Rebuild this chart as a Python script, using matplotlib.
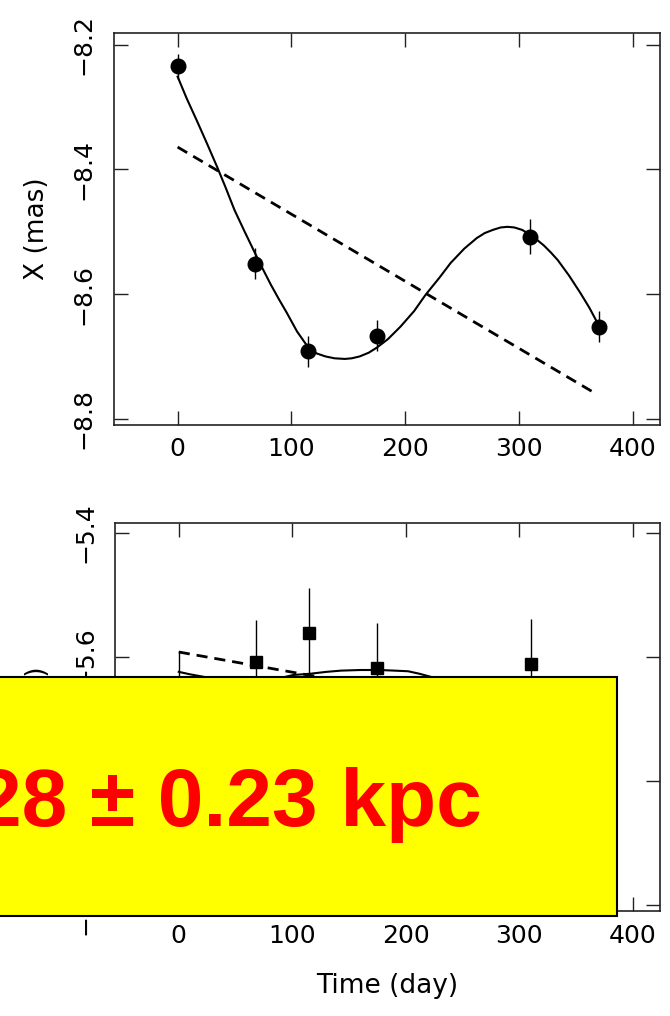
import matplotlib
matplotlib.use("Agg")
import matplotlib.pyplot as plt
from matplotlib.patches import Rectangle

# X (mas) data points
x_days = [0, 68, 115, 175, 310, 370]
x_pos = [-8.234, -8.551, -8.692, -8.667, -8.508, -8.652]
x_err = [0.020, 0.025, 0.025, 0.025, 0.028, 0.025]

# best fit (parallax + proper motion) in X
x_fit_days = [0, 8, 17, 26, 35, 42, 50, 59, 68, 75, 82, 89, 96, 105, 115, 122, 130,
              138, 147, 153, 160, 168, 175, 185, 196, 208, 218, 230, 240, 252, 263,
              270, 277, 284, 290, 296, 303, 310, 316, 322, 328, 334, 344, 354, 362, 369]
x_fit = [-8.251, -8.286, -8.322, -8.359, -8.397, -8.428, -8.465, -8.500, -8.534,
         -8.560, -8.585, -8.608, -8.630, -8.660, -8.686, -8.695, -8.700, -8.703,
         -8.704, -8.703, -8.700, -8.694, -8.686, -8.672, -8.652, -8.627, -8.601,
         -8.574, -8.550, -8.527, -8.510, -8.502, -8.497, -8.493, -8.492, -8.493,
         -8.497, -8.505, -8.513, -8.522, -8.533, -8.545, -8.570, -8.598, -8.622, -8.646]
# proper motion only in X
x_pm_days = [0, 366]
x_pm = [-8.364, -8.758]

# Y (mas) data points (first and last are under the box)
y_days = [0, 68, 115, 175, 310, 370]
y_pos = [-5.660, -5.608, -5.561, -5.618, -5.611, -5.700]
y_err = [0.07, 0.068, 0.073, 0.073, 0.073, 0.07]

y_fit_days = [0, 10, 22, 40, 60, 80, 101, 116, 130, 143, 160, 177, 190, 202, 212, 222,
              250, 280, 310, 340, 369]
y_fit = [-5.624, -5.628, -5.632, -5.640, -5.643, -5.638, -5.629, -5.627, -5.624,
         -5.622, -5.621, -5.621, -5.622, -5.623, -5.627, -5.632, -5.650, -5.668,
         -5.680, -5.686, -5.688]
y_pm_days = [0, 366]
y_pm = [-5.592, -5.711]

xticks = [0, 100, 200, 300, 400]

fig = plt.figure(figsize=(6.7, 10.16), dpi=100)
ax1 = fig.add_axes([0.170, 0.5817, 0.815, 0.3858])
ax2 = fig.add_axes([0.172, 0.1033, 0.813, 0.3819])


def style(ax, yticks, ylim, ylabel):
    ax.set_xlim(-56, 424)
    ax.set_ylim(*ylim)
    ax.set_xticks(xticks)
    ax.set_yticks(yticks)
    ax.set_yticklabels([f"\u2212{abs(v):.1f}" for v in yticks], rotation=90, va="center")
    ax.tick_params(direction="in", length=10, width=1.0, top=True, right=True,
                   labelsize=18, color="#222222")
    ax.tick_params(axis="y", pad=13)
    ax.tick_params(axis="x", pad=9)
    for s in ax.spines.values():
        s.set_linewidth(1.2)
        s.set_color("#222222")
    ax.set_ylabel(ylabel, fontsize=19, labelpad=16)


ax1.plot(x_fit_days, x_fit, color="black", lw=1.5)
ax1.plot(x_pm_days, x_pm, color="black", lw=2.0, ls=(0, (4, 2.5)))
ax1.errorbar(x_days, x_pos, yerr=x_err, fmt="o", color="black", ms=10.5, elinewidth=1.0,
             capsize=0)
style(ax1, [-8.2, -8.4, -8.6, -8.8], (-8.81, -8.181), "X (mas)")

ax2.plot(y_fit_days, y_fit, color="black", lw=1.5)
ax2.plot(y_pm_days, y_pm, color="black", lw=2.0, ls=(0, (4, 2.5)))
ax2.errorbar(y_days, y_pos, yerr=y_err, fmt="s", color="black", ms=8, elinewidth=1.0,
             capsize=0)
style(ax2, [-5.4, -5.6, -5.8, -6.0], (-6.0097, -5.384), "Y (mas)")
ax2.set_xlabel("Time (day)", fontsize=19, labelpad=18)

# yellow overlay box with the distance
box = Rectangle((-0.01, 0.0984), 0.931, 0.2352, transform=fig.transFigure,
                facecolor="#ffff00", edgecolor="black", lw=1.5, zorder=10)
fig.patches.append(box)
fig.text(0.719, 0.208, "28 \u00b1 0.23 kpc", transform=fig.transFigure, ha="right",
         va="center", fontsize=59, fontweight="bold", color="#ff0000",
         family="Liberation Sans", zorder=11)

fig.savefig("out.png", dpi=100)
